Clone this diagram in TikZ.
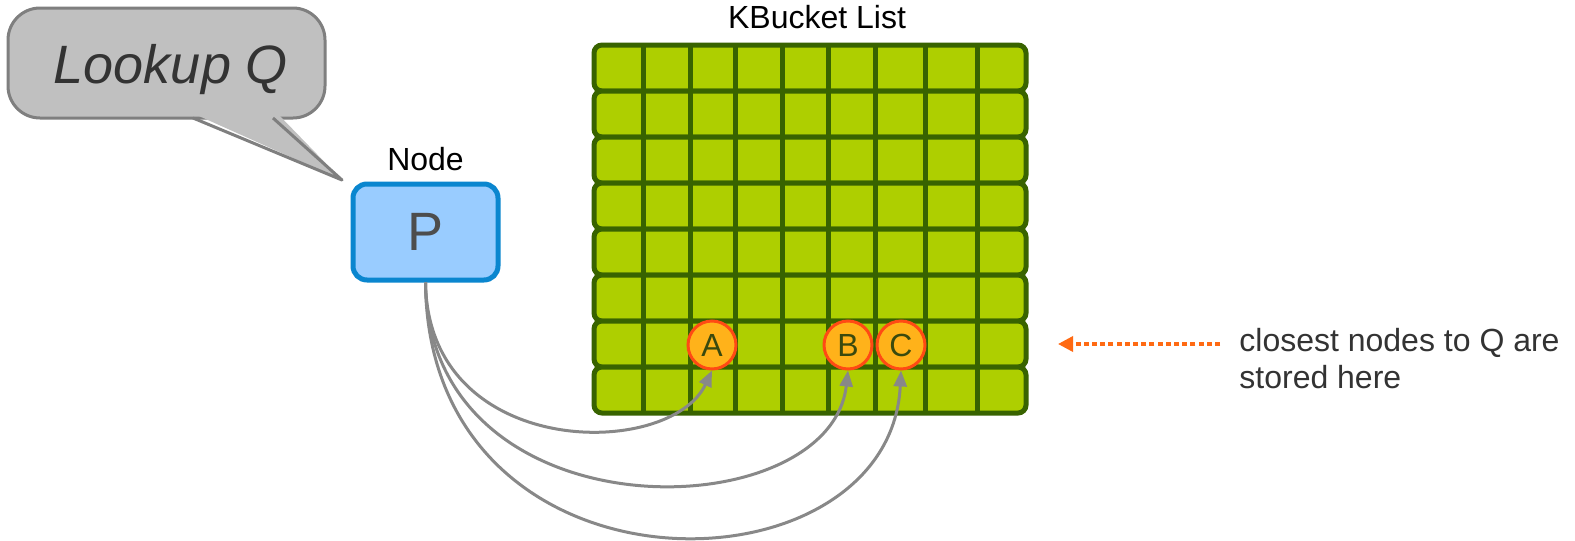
\documentclass[tikz,border=0pt]{standalone}
\usepackage{fontspec}
\setmainfont{Liberation Sans}
\usepackage{tikz}
\usetikzlibrary{positioning,arrows.meta}
\definecolor{kbgrass}{HTML}{AECF00}
\definecolor{kbmoss}{HTML}{386300}
\definecolor{kbsky}{HTML}{99CCFF}
\definecolor{kbblue}{HTML}{0A86CF}
\definecolor{kbamber}{HTML}{FFB21A}
\definecolor{kbflame}{HTML}{FF4A14}
\definecolor{kbolive}{HTML}{3A4A0E}
\definecolor{kbgrey}{HTML}{888888}
\definecolor{kbsmoke}{HTML}{7F7F7F}
\definecolor{kbcloud}{HTML}{C0C0C0}
\definecolor{kbslate}{HTML}{4D4D4D}
\definecolor{kbink}{HTML}{333333}
\definecolor{kborange}{HTML}{FF6A13}

\begin{document}
\begin{tikzpicture}[x=0.5pt, y=-0.5pt,
  bucket/.style={draw=kbmoss, fill=kbgrass, line width=2.5pt, rounded corners=4pt,
    minimum width=216pt, minimum height=23pt, inner sep=0pt},
  contact/.style={circle, draw=kbflame, fill=kbamber, line width=1.5pt, minimum size=24pt,
    inner sep=0pt, font=\fontsize{16}{16}\selectfont, text=kbolive},
  hop/.style={draw=kbgrey, line width=1.5pt, -{Triangle[length=8pt,width=6.5pt]}},
  hint/.style={draw=kborange, line width=1.7pt, dash pattern=on 2.5pt off 1.6pt,
    -{Triangle[length=7.5pt,width=7.5pt]}},
  ]
  \fill[white] (0,0) rectangle (1575,541);
  \useasboundingbox (0,0) rectangle (1575,541);

  % speech bubble
  \draw[fill=kbcloud, draw=kbsmoke, line width=1.5pt, rounded corners=16pt]
    (8,8) rectangle (325,118);
  \fill[kbcloud] (190,112) -- (342,180) -- (276,112) -- cycle;
  \draw[kbsmoke, line width=1.5pt, line join=round] (193,118) -- (342,180) -- (273,118);
  \node[font=\fontsize{27}{27}\selectfont\itshape, text=kbink] (lookup) at (171,70) {Lookup Q};

  % the node
  \node[draw=kbblue, fill=kbsky, line width=2.5pt, rounded corners=7pt, minimum width=72.5pt,
    minimum height=48pt, font=\fontsize{27}{27}\selectfont, text=kbslate] (p) at (425.5,232) {P};
  \node[above=2pt of p, font=\fontsize{16}{16}\selectfont] (nodecap) {Node};

  % kbucket list
  \foreach \r in {1,...,8}
    \node[bucket] (row\r) at (810,{68+46*(\r-1)}) {};
  \foreach \x in {643,690,735,782,828,875,925,977}
    \draw[kbmoss, line width=2.5pt] (\x,45) -- (\x,413);
  \node[font=\fontsize{16}{16}\selectfont, anchor=base] (title) at (817,28) {KBucket List};

  \node[contact] (a) at (712,345) {A};
  \node[contact] (b) at (848,345) {B};
  \node[contact] (c) at (901,345) {C};

  \draw[hop] (p.south) .. controls (428,460) and (670,460) .. (a.south);
  \draw[hop] (p.south) .. controls (428,540) and (830,530) .. (b.south);
  \draw[hop] (p.south) .. controls (428,610) and (890,600) .. (c.south);

  \node[anchor=base west, inner sep=0pt, align=left, text=kbink,
    font=\fontsize{16}{18.5}\selectfont] (note) at (1239,388) {closest nodes to Q are\\stored here};
  \draw[hint] ([xshift=-9.5pt]note.west |- row7.east) -- ([xshift=14.75pt]row7.east);
\end{tikzpicture}
\end{document}
